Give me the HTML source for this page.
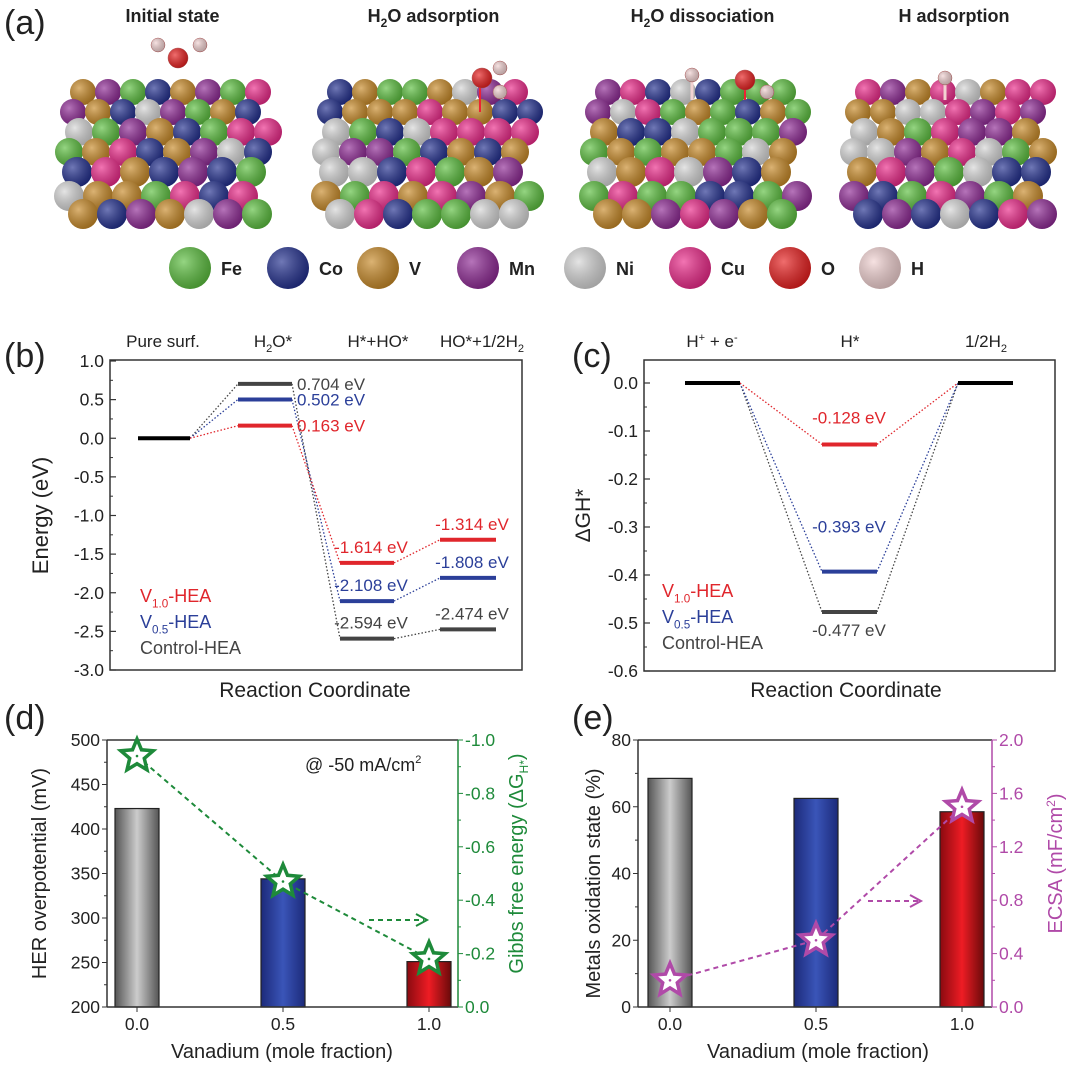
<!DOCTYPE html>
<html><head><meta charset="utf-8"><style>
body{margin:0;background:#fff}
svg{display:block;font-family:"Liberation Sans",Arial,sans-serif}
</style></head><body>
<svg id="fig" width="1080" height="1065" viewBox="0 0 1080 1065" xmlns="http://www.w3.org/2000/svg">
<defs>
<linearGradient id="gGray" x1="0" x2="1"><stop offset="0" stop-color="#555"/><stop offset="0.5" stop-color="#ccc"/><stop offset="1" stop-color="#555"/></linearGradient>
<linearGradient id="gBlue" x1="0" x2="1"><stop offset="0" stop-color="#1c2a7a"/><stop offset="0.5" stop-color="#3a55b8"/><stop offset="1" stop-color="#1c2a7a"/></linearGradient>
<linearGradient id="gRed" x1="0" x2="1"><stop offset="0" stop-color="#8a0a10"/><stop offset="0.5" stop-color="#ee1c24"/><stop offset="1" stop-color="#6a0a0a"/></linearGradient>
<radialGradient id="sph" cx="0.35" cy="0.35" r="0.7"><stop offset="0" stop-color="#fff" stop-opacity="0.35"/><stop offset="1" stop-color="#000" stop-opacity="0.25"/></radialGradient>
</defs>
<g id="pa"></g>
<g id="pb"></g>
<g id="pc"></g>
<g id="pd"></g>
<g id="pe"></g>
</svg>
<script>
// ---- data ----
const bStages = ["Pure surf.", "H2O*", "H*+HO*", "HO*+1/2H2"];
const bControl = [0, 0.704, -2.594, -2.474];
const bV05 = [0, 0.502, -2.108, -1.808];
const bV10 = [0, 0.163, -1.614, -1.314];
const bTicks = [1.0, 0.5, 0.0, -0.5, -1.0, -1.5, -2.0, -2.5, -3.0];
const cStages = ["H+ + e-", "H*", "1/2H2"];
const cControl = [0, -0.477, 0];
const cV05 = [0, -0.393, 0];
const cV10 = [0, -0.128, 0];
const cTicks = [0.0, -0.1, -0.2, -0.3, -0.4, -0.5, -0.6];
const dX = [0.0, 0.5, 1.0];
const dOverpot = [423, 344, 251];
const dGibbs = [-0.94, -0.47, -0.18];
const dLeftTicks = [200, 250, 300, 350, 400, 450, 500];
const dRightTicks = [0.0, -0.2, -0.4, -0.6, -0.8, -1.0];
const eX = [0.0, 0.5, 1.0];
const eOx = [68.5, 62.5, 58.5];
const eEcsa = [0.2, 0.5, 1.5];
const eLeftTicks = [0, 20, 40, 60, 80];
const eRightTicks = [0.0, 0.4, 0.8, 1.2, 1.6, 2.0];

const NS = "http://www.w3.org/2000/svg";
function mk(parent, tag, attrs, text) {
  const el = document.createElementNS(NS, tag);
  for (const k in attrs) el.setAttribute(k, attrs[k]);
  if (text !== undefined) el.textContent = text;
  parent.appendChild(el);
  return el;
}
function txt(parent, x, y, s, size, fill, anchor, name) {
  const t = mk(parent, "text", {x: x, y: y, "font-size": size, fill: fill || "#222", "text-anchor": anchor || "start"}, s);
  
  
  return t;
}
function fmt(v, d) { return v.toFixed(d); }

// ---- panel a ----
const pa = document.getElementById("pa");
txt(pa, 4, 34, "(a)", 34, "#222", "start", "panel-a-label");
const cols = {Fe:"#5cbf3f", Co:"#23308f", V:"#c88a28", Mn:"#8f2a95", Ni:"#d6d6d6", Cu:"#ec2a8a", O:"#e81f1f", H:"#f2d2d2"};
const metal = ["Fe","Co","V","Mn","Ni","Cu"];
let seed = 7;
function rnd() { seed = (seed * 9301 + 49297) % 233280; return seed / 233280; }
const slabs = [[65, 280, "Initial state"], [322, 545, "H2O adsorption"], [590, 815, "H2O dissociation"], [850, 1058, "H adsorption"]];
slabs.forEach((s, si) => {
  const g = mk(pa, "g", {});
  
  
  const rows = [[92, 13, 18], [112, 13, 8], [132, 14, 14], [152, 14, 4], [172, 15, 12], [196, 15, 4], [214, 15, 18]];
  rows.forEach((r, ri) => {
    const [y, rad, off] = r;
    for (let x = s[0] + off; x <= s[1] - rad + 4; x += rad * 2 - 1) {
      const c = metal[Math.floor(rnd() * 6)];
      mk(g, "circle", {cx: x, cy: y, r: rad, fill: cols[c]});
      mk(g, "circle", {cx: x, cy: y, r: rad, fill: "url(#sph)"});
    }
  });
  const t = txt(pa, (s[0] + s[1]) / 2, 22, "", 18, "#222", "middle", "slab-title-" + (si + 1));
  t.setAttribute("font-weight", "bold");
  if (s[2].startsWith("H2O")) {
    mk(t, "tspan", {}, "H");
    mk(t, "tspan", {"font-size": 12, dy: 5}, "2");
    mk(t, "tspan", {dy: -5}, "O" + s[2].slice(3));
  } else t.textContent = s[2];
});
function atom(x, y, r, c) { mk(pa, "circle", {cx: x, cy: y, r: r, fill: cols[c], stroke: "#b55", "stroke-width": 0.5}); mk(pa, "circle", {cx: x, cy: y, r: r, fill: "url(#sph)"}); }
atom(158, 45, 7, "H"); atom(200, 45, 7, "H"); atom(178, 58, 10, "O");
mk(pa, "line", {x1: 480, y1: 88, x2: 480, y2: 112, stroke: "#e23", "stroke-width": 2});
atom(500, 68, 7, "H"); atom(500, 92, 7, "H"); atom(482, 78, 10, "O");
mk(pa, "line", {x1: 692, y1: 82, x2: 692, y2: 100, stroke: "#f2d2d2", "stroke-width": 3});
mk(pa, "line", {x1: 745, y1: 88, x2: 745, y2: 100, stroke: "#e23", "stroke-width": 2});
atom(692, 75, 7, "H"); atom(745, 80, 10, "O"); atom(767, 92, 7, "H");
mk(pa, "line", {x1: 945, y1: 84, x2: 945, y2: 100, stroke: "#f2d2d2", "stroke-width": 3});
atom(945, 78, 7, "H");
const legA = [["Fe", 190], ["Co", 288], ["V", 378], ["Mn", 478], ["Ni", 585], ["Cu", 690], ["O", 790], ["H", 880]];
legA.forEach(l => {
  const c = mk(pa, "circle", {cx: l[1], cy: 268, r: 21, fill: cols[l[0]]});
  
  
  mk(pa, "circle", {cx: l[1], cy: 268, r: 21, fill: "url(#sph)"});
  const t = txt(pa, l[1] + 31, 275, l[0], 18, "#222", "start", "legend-" + l[0]);
  t.setAttribute("font-weight", "bold");
});

function frame(g, x0, y0, x1, y1) {
  const r = mk(g, "rect", {x: x0, y: y0, width: x1 - x0, height: y1 - y0, fill: "none", stroke: "#333", "stroke-width": 1.5});
  
  
}
function sub(g, x, y, main, s, rest, size, fill, anchor, name) {
  const t = txt(g, x, y, "", size, fill, anchor, name);
  mk(t, "tspan", {}, main);
  mk(t, "tspan", {"font-size": size * 0.65, dy: size * 0.3}, s);
  mk(t, "tspan", {dy: -size * 0.3}, rest);
  return t;
}
const RED = "#e0262c", BLUE = "#2b3f99", GRAY = "#444";

// ---- panel b ----
(function () {
  const g = document.getElementById("pb");
  const X0 = 110, X1 = 522, Ytop = 361, Ybot = 670;
  const ys = v => Ytop + (1.0 - v) * (Ybot - Ytop) / 4.0;
  const lx = [[138, 190], [238, 292], [340, 394], [440, 496]];
  txt(g, 4, 367, "(b)", 34, "#222", "start", "panel-b-label");
  frame(g, X0, Ytop - 1, X1, Ybot);
  bTicks.forEach(t => {
    mk(g, "line", {x1: X0, y1: ys(t), x2: X0 + 6, y2: ys(t), stroke: "#333", "stroke-width": 1.2});
    if (t > -3.0) mk(g, "line", {x1: X0, y1: ys(t - 0.25), x2: X0 + 3, y2: ys(t - 0.25), stroke: "#333"});
    txt(g, X0 - 6, ys(t) + 6, fmt(t, 1), 17.5, "#222", "end", "y-tick-label");
  });
  txt(g, 163, 347, bStages[0], 17, "#222", "middle", "stage-label");
  sub(g, 273, 347, "H", "2", "O*", 17, "#222", "middle", "stage-label");
  txt(g, 378, 347, bStages[2], 17, "#222", "middle", "stage-label");
  sub(g, 482, 347, "HO*+1/2H", "2", "", 17, "#222", "middle", "stage-label");
  const t = txt(g, 0, 0, "Energy (eV)", 22, "#222", "middle", "y-axis-title");
  t.setAttribute("transform", "translate(48," + ((Ytop + Ybot) / 2) + ") rotate(-90)");
  txt(g, 315, 697, "Reaction Coordinate", 21, "#222", "middle", "x-axis-title");
  const series = [[bControl, GRAY, "control"], [bV05, BLUE, "v05"], [bV10, RED, "v10"]];
  series.forEach(s => {
    const vals = s[0];
    for (let i = 0; i < vals.length - 1; i++) {
      mk(g, "line", {x1: lx[i][1], y1: ys(vals[i]), x2: lx[i + 1][0], y2: ys(vals[i + 1]), stroke: s[1], "stroke-width": 1.3, "stroke-dasharray": "1.5,2"});
    }
    for (let i = 1; i < vals.length; i++) {
      const l = mk(g, "line", {x1: lx[i][0], y1: ys(vals[i]), x2: lx[i][1], y2: ys(vals[i]), stroke: s[1], "stroke-width": 4});
      
      
      const lab = fmt(vals[i], 3) + " eV";
      if (i === 1) txt(g, 297, ys(vals[i]) + 6, lab, 17, s[1], "start", "level-value");
      else txt(g, (lx[i][0] + lx[i][1]) / 2 + 4, ys(vals[i]) - 10, lab, 17, s[1], "middle", "level-value");
    }
  });
  const p = mk(g, "line", {x1: lx[0][0], y1: ys(0), x2: lx[0][1], y2: ys(0), stroke: "#000", "stroke-width": 4});
  
  
  sub(g, 140, 602, "V", "1.0", "-HEA", 18, RED, "start", "legend-v10");
  sub(g, 140, 628, "V", "0.5", "-HEA", 18, BLUE, "start", "legend-v05");
  txt(g, 140, 654, "Control-HEA", 18, GRAY, "start", "legend-control");
})();

// ---- panel c ----
(function () {
  const g = document.getElementById("pc");
  const X0 = 644, X1 = 1055, Ytop = 360, Ybot = 671;
  const y0 = 383, sc = (Ybot - y0) / 0.6;
  const ys = v => y0 - v * sc;
  const lx = [[685, 740], [822, 877], [958, 1013]];
  txt(g, 572, 367, "(c)", 34, "#222", "start", "panel-c-label");
  frame(g, X0, Ytop, X1, Ybot);
  cTicks.forEach(t => {
    mk(g, "line", {x1: X0, y1: ys(t), x2: X0 + 6, y2: ys(t), stroke: "#333", "stroke-width": 1.2});
    if (t > -0.6) mk(g, "line", {x1: X0, y1: ys(t - 0.05), x2: X0 + 3, y2: ys(t - 0.05), stroke: "#333"});
    txt(g, X0 - 6, ys(t) + 6, fmt(t, 1), 17.5, "#222", "end", "y-tick-label");
  });
  const h1 = txt(g, 712, 347, "", 17, "#222", "middle", "stage-label");
  mk(h1, "tspan", {}, "H"); mk(h1, "tspan", {"font-size": 11, dy: -6}, "+"); mk(h1, "tspan", {dy: 6}, " + e"); mk(h1, "tspan", {"font-size": 11, dy: -6}, "-");
  txt(g, 850, 347, cStages[1], 17, "#222", "middle", "stage-label");
  sub(g, 986, 347, "1/2H", "2", "", 17, "#222", "middle", "stage-label");
  const t = txt(g, 0, 0, "ΔGH*", 21, "#222", "middle", "y-axis-title");
  t.setAttribute("transform", "translate(590," + ((Ytop + Ybot) / 2) + ") rotate(-90)");
  txt(g, 846, 697, "Reaction Coordinate", 21, "#222", "middle", "x-axis-title");
  const series = [[cControl, GRAY, "control"], [cV05, BLUE, "v05"], [cV10, RED, "v10"]];
  series.forEach(s => {
    const vals = s[0];
    for (let i = 0; i < vals.length - 1; i++)
      mk(g, "line", {x1: lx[i][1], y1: ys(vals[i]), x2: lx[i + 1][0], y2: ys(vals[i + 1]), stroke: s[1], "stroke-width": 1.3, "stroke-dasharray": "1.5,2"});
    const l = mk(g, "line", {x1: lx[1][0], y1: ys(vals[1]), x2: lx[1][1], y2: ys(vals[1]), stroke: s[1], "stroke-width": 4});
    
    
    const below = s[2] === "control";
    txt(g, 849, below ? ys(vals[1]) + 24 : ys(vals[1]) - 45 * (s[2] === "v05" ? 1 : 0.6) + 6, fmt(vals[1], 3) + " eV", 17, s[1], "middle", "level-value");
  });
  [0, 2].forEach(i => {
    const l = mk(g, "line", {x1: lx[i][0], y1: ys(0), x2: lx[i][1], y2: ys(0), stroke: "#000", "stroke-width": 4});
    
    
  });
  sub(g, 662, 597, "V", "1.0", "-HEA", 18, RED, "start", "legend-v10");
  sub(g, 662, 623, "V", "0.5", "-HEA", 18, BLUE, "start", "legend-v05");
  txt(g, 662, 649, "Control-HEA", 18, GRAY, "start", "legend-control");
})();

function star(g, cx, cy, R, stroke, name) {
  let pts = [];
  for (let k = 0; k < 10; k++) {
    const a = -Math.PI / 2 + k * Math.PI / 5, r = k % 2 ? R * 0.45 : R;
    pts.push((cx + r * Math.cos(a)).toFixed(1) + "," + (cy + r * Math.sin(a)).toFixed(1));
  }
  const p = mk(g, "polygon", {points: pts.join(" "), fill: "#fff", stroke: stroke, "stroke-width": 3.5, "stroke-linejoin": "miter"});
  
  
  mk(g, "circle", {cx: cx, cy: cy, r: 1.3, fill: stroke});
}
const fills = ["url(#gGray)", "url(#gBlue)", "url(#gRed)"];

// ---- panel d ----
(function () {
  const g = document.getElementById("pd");
  const X0 = 107, X1 = 458, Ytop = 740, Ybot = 1007;
  const xs = v => 137 + v * (429 - 137);
  const yl = v => Ybot - (v - 200) / 300 * (Ybot - Ytop);
  const yr = v => Ybot - (-v) / 1.0 * (Ybot - Ytop);
  const GREEN = "#1e8a3a";
  txt(g, 4, 729, "(d)", 34, "#222", "start", "panel-d-label");
  dX.forEach((x, i) => {
    const b = mk(g, "rect", {x: xs(x) - 22, y: yl(dOverpot[i]), width: 44, height: Ybot - yl(dOverpot[i]), fill: fills[i], stroke: "#222", "stroke-width": 1.2});
    
    
    txt(g, xs(x), 1030, fmt(x, 1), 17.5, "#222", "middle", "x-tick-label");
    mk(g, "line", {x1: xs(x), y1: Ybot, x2: xs(x), y2: Ybot + 5, stroke: "#333"});
  });
  mk(g, "line", {x1: X0, y1: Ytop, x2: X1, y2: Ytop, stroke: "#333", "stroke-width": 1.5});
  mk(g, "line", {x1: X0, y1: Ybot, x2: X1, y2: Ybot, stroke: "#333", "stroke-width": 1.5});
  mk(g, "line", {x1: X0, y1: Ytop, x2: X0, y2: Ybot, stroke: "#333", "stroke-width": 1.5});
  mk(g, "line", {x1: X1, y1: Ytop, x2: X1, y2: Ybot, stroke: GREEN, "stroke-width": 1.5});
  dLeftTicks.forEach(t => {
    mk(g, "line", {x1: X0, y1: yl(t), x2: X0 - 5, y2: yl(t), stroke: "#333"});
    if (t < 500) mk(g, "line", {x1: X0, y1: yl(t + 25), x2: X0 - 3, y2: yl(t + 25), stroke: "#333"});
    txt(g, X0 - 7, yl(t) + 6, String(t), 17.5, "#222", "end", "y-tick-label");
  });
  dRightTicks.forEach(t => {
    mk(g, "line", {x1: X1, y1: yr(t), x2: X1 + 5, y2: yr(t), stroke: GREEN});
    if (t > -1.0) mk(g, "line", {x1: X1, y1: yr(t - 0.1), x2: X1 + 3, y2: yr(t - 0.1), stroke: GREEN});
    txt(g, X1 + 7, yr(t) + 6, fmt(t, 1), 17.5, GREEN, "start", "y2-tick-label");
  });
  let pts = dX.map((x, i) => xs(x) + "," + yr(dGibbs[i])).join(" ");
  mk(g, "polyline", {points: pts, fill: "none", stroke: GREEN, "stroke-width": 2, "stroke-dasharray": "5,4"});
  dX.forEach((x, i) => star(g, xs(x), yr(dGibbs[i]), 17, GREEN, "gibbs-star"));
  mk(g, "line", {x1: 369, y1: 920, x2: 424, y2: 920, stroke: GREEN, "stroke-width": 2, "stroke-dasharray": "5,4"});
  mk(g, "polyline", {points: "416,914 427,920 416,926", fill: "none", stroke: GREEN, "stroke-width": 2});
  const at = txt(g, 305, 771, "@ -50 mA/cm", 18, "#222", "start", "condition-label");
  mk(at, "tspan", {"font-size": 11, dy: -8}, "2");
  const t = txt(g, 0, 0, "HER overpotential (mV)", 20, "#222", "middle", "y-axis-title");
  t.setAttribute("transform", "translate(46," + ((Ytop + Ybot) / 2) + ") rotate(-90)");
  const t2 = txt(g, 0, 0, "", 20, GREEN, "middle", "y2-axis-title");
  mk(t2, "tspan", {}, "Gibbs free energy (ΔG"); mk(t2, "tspan", {"font-size": 12, dy: 5}, "H*"); mk(t2, "tspan", {dy: -5}, ")");
  t2.setAttribute("transform", "translate(523," + ((Ytop + Ybot) / 2 - 10) + ") rotate(-90)");
  txt(g, 282, 1058, "Vanadium (mole fraction)", 20, "#222", "middle", "x-axis-title");
})();

// ---- panel e ----
(function () {
  const g = document.getElementById("pe");
  const X0 = 638, X1 = 992, Ytop = 740, Ybot = 1007;
  const xs = v => 670 + v * (962 - 670);
  const yl = v => Ybot - v / 80 * (Ybot - Ytop);
  const yr = v => Ybot - v / 2.0 * (Ybot - Ytop);
  const MAG = "#b04aa8";
  txt(g, 572, 729, "(e)", 34, "#222", "start", "panel-e-label");
  eX.forEach((x, i) => {
    const b = mk(g, "rect", {x: xs(x) - 22, y: yl(eOx[i]), width: 44, height: Ybot - yl(eOx[i]), fill: fills[i], stroke: "#222", "stroke-width": 1.2});
    
    
    txt(g, xs(x), 1030, fmt(x, 1), 17.5, "#222", "middle", "x-tick-label");
    mk(g, "line", {x1: xs(x), y1: Ybot, x2: xs(x), y2: Ybot + 5, stroke: "#333"});
  });
  mk(g, "line", {x1: X0, y1: Ytop, x2: X1, y2: Ytop, stroke: "#333", "stroke-width": 1.5});
  mk(g, "line", {x1: X0, y1: Ybot, x2: X1, y2: Ybot, stroke: "#333", "stroke-width": 1.5});
  mk(g, "line", {x1: X0, y1: Ytop, x2: X0, y2: Ybot, stroke: "#333", "stroke-width": 1.5});
  mk(g, "line", {x1: X1, y1: Ytop, x2: X1, y2: Ybot, stroke: MAG, "stroke-width": 1.5});
  eLeftTicks.forEach(t => {
    mk(g, "line", {x1: X0, y1: yl(t), x2: X0 - 5, y2: yl(t), stroke: "#333"});
    if (t < 80) mk(g, "line", {x1: X0, y1: yl(t + 10), x2: X0 - 3, y2: yl(t + 10), stroke: "#333"});
    txt(g, X0 - 7, yl(t) + 6, String(t), 17.5, "#222", "end", "y-tick-label");
  });
  eRightTicks.forEach(t => {
    mk(g, "line", {x1: X1, y1: yr(t), x2: X1 + 5, y2: yr(t), stroke: MAG});
    if (t < 2.0) mk(g, "line", {x1: X1, y1: yr(t + 0.2), x2: X1 + 3, y2: yr(t + 0.2), stroke: MAG});
    txt(g, X1 + 7, yr(t) + 6, fmt(t, 1), 17.5, MAG, "start", "y2-tick-label");
  });
  let pts = eX.map((x, i) => xs(x) + "," + yr(eEcsa[i])).join(" ");
  mk(g, "polyline", {points: pts, fill: "none", stroke: MAG, "stroke-width": 2, "stroke-dasharray": "5,4"});
  eX.forEach((x, i) => star(g, xs(x), yr(eEcsa[i]), 17, MAG, "ecsa-star"));
  mk(g, "line", {x1: 868, y1: 901, x2: 918, y2: 901, stroke: MAG, "stroke-width": 2, "stroke-dasharray": "5,4"});
  mk(g, "polyline", {points: "910,895 921,901 910,907", fill: "none", stroke: MAG, "stroke-width": 2});
  const t = txt(g, 0, 0, "Metals oxidation state (%)", 20, "#222", "middle", "y-axis-title");
  t.setAttribute("transform", "translate(600," + ((Ytop + Ybot) / 2 + 10) + ") rotate(-90)");
  const t2 = txt(g, 0, 0, "", 20, MAG, "middle", "y2-axis-title");
  mk(t2, "tspan", {}, "ECSA (mF/cm"); mk(t2, "tspan", {"font-size": 12, dy: -7}, "2"); mk(t2, "tspan", {dy: 7}, ")");
  t2.setAttribute("transform", "translate(1062," + ((Ytop + Ybot) / 2 - 10) + ") rotate(-90)");
  txt(g, 818, 1058, "Vanadium (mole fraction)", 20, "#222", "middle", "x-axis-title");
})();
</script>
</body></html>
